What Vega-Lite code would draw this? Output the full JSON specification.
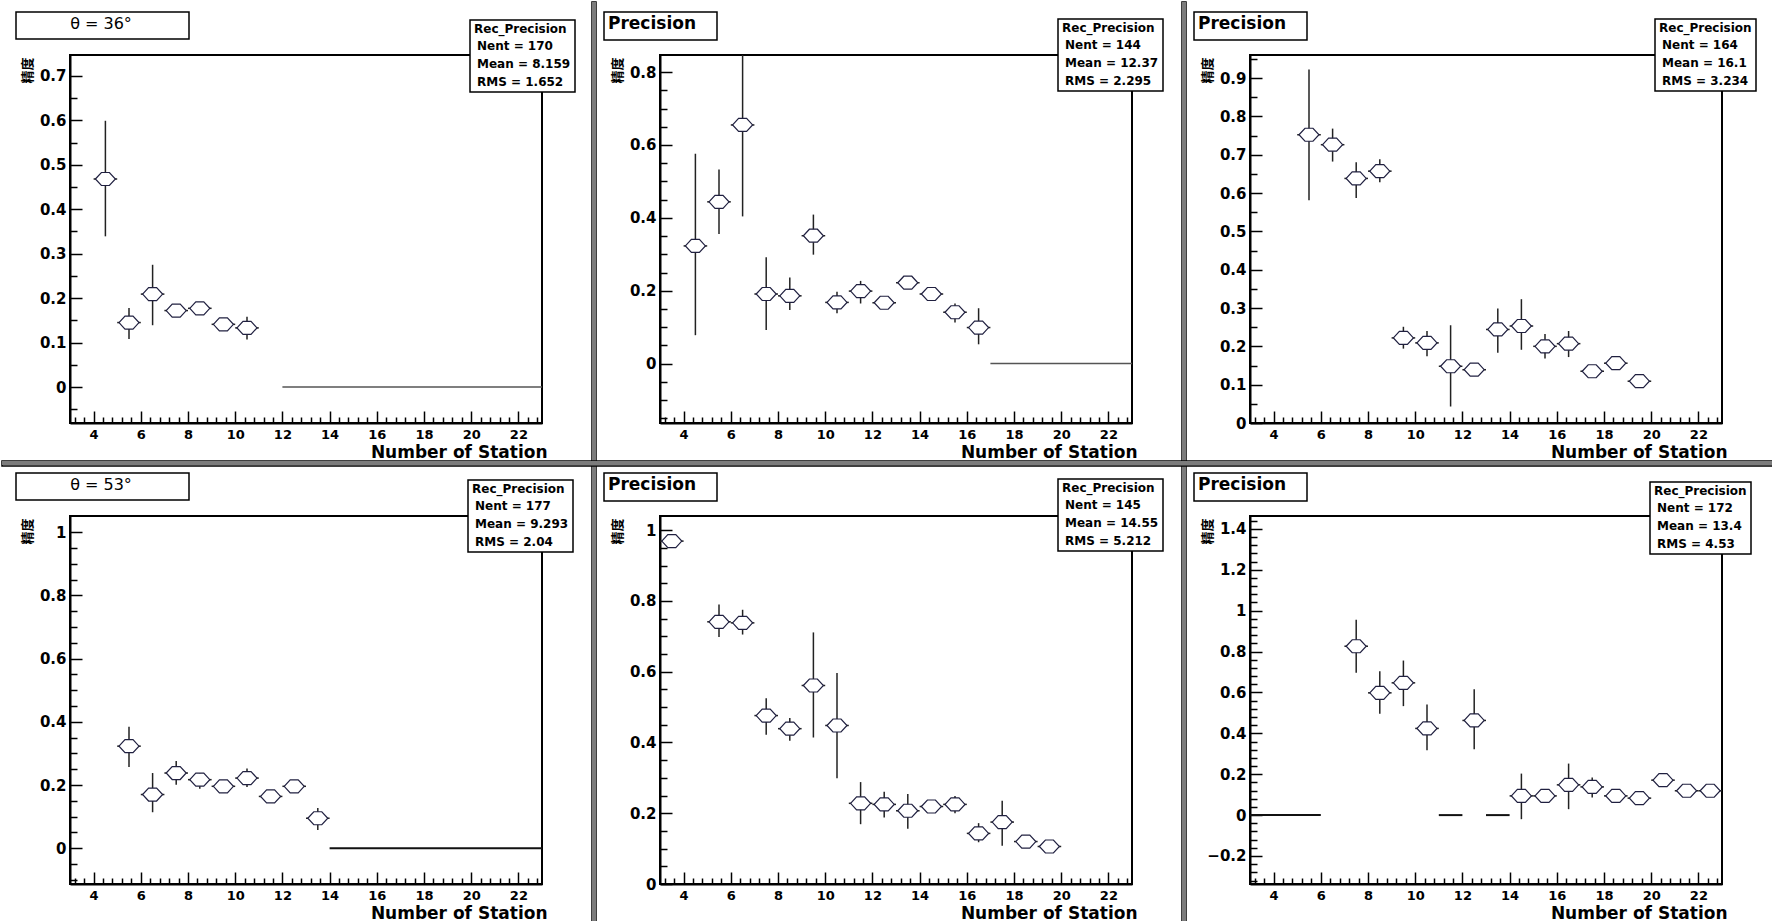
{
  "$schema": "https://vega.github.io/schema/vega-lite/v6.json",
  "background": "white",
  "padding": {"left": 0, "top": 0, "right": 0, "bottom": 0},
  "datasets": {
    "p1": [
      {"x": 4.5, "bin_lo": 4, "bin_hi": 5, "y": 0.468, "lo": 0.339, "hi": 0.599},
      {"x": 5.5, "bin_lo": 5, "bin_hi": 6, "y": 0.145, "lo": 0.108, "hi": 0.178},
      {"x": 6.5, "bin_lo": 6, "bin_hi": 7, "y": 0.209, "lo": 0.139, "hi": 0.275},
      {"x": 7.5, "bin_lo": 7, "bin_hi": 8, "y": 0.172, "lo": 0.16, "hi": 0.184},
      {"x": 8.5, "bin_lo": 8, "bin_hi": 9, "y": 0.177, "lo": 0.166, "hi": 0.188},
      {"x": 9.5, "bin_lo": 9, "bin_hi": 10, "y": 0.141, "lo": 0.13, "hi": 0.152},
      {"x": 10.5, "bin_lo": 10, "bin_hi": 11, "y": 0.133, "lo": 0.107, "hi": 0.158}
    ],
    "z1": [{"x1": 12, "x2": 23, "y0": 0}],
    "s1": [{"stat": "Nent = 170"}, {"stat": "Mean = 8.159"}, {"stat": "RMS = 1.652"}],
    "p2": [
      {"x": 4.5, "bin_lo": 4, "bin_hi": 5, "y": 0.323, "lo": 0.078, "hi": 0.576},
      {"x": 5.5, "bin_lo": 5, "bin_hi": 6, "y": 0.444, "lo": 0.356, "hi": 0.533},
      {"x": 6.5, "bin_lo": 6, "bin_hi": 7, "y": 0.655, "lo": 0.404, "hi": 0.906},
      {"x": 7.5, "bin_lo": 7, "bin_hi": 8, "y": 0.191, "lo": 0.092, "hi": 0.292},
      {"x": 8.5, "bin_lo": 8, "bin_hi": 9, "y": 0.186, "lo": 0.147, "hi": 0.236},
      {"x": 9.5, "bin_lo": 9, "bin_hi": 10, "y": 0.351, "lo": 0.299, "hi": 0.409},
      {"x": 10.5, "bin_lo": 10, "bin_hi": 11, "y": 0.168, "lo": 0.138, "hi": 0.197},
      {"x": 11.5, "bin_lo": 11, "bin_hi": 12, "y": 0.199, "lo": 0.165, "hi": 0.227},
      {"x": 12.5, "bin_lo": 12, "bin_hi": 13, "y": 0.167, "lo": 0.155, "hi": 0.179},
      {"x": 13.5, "bin_lo": 13, "bin_hi": 14, "y": 0.222, "lo": 0.21, "hi": 0.234},
      {"x": 14.5, "bin_lo": 14, "bin_hi": 15, "y": 0.191, "lo": 0.18, "hi": 0.202},
      {"x": 15.5, "bin_lo": 15, "bin_hi": 16, "y": 0.141, "lo": 0.113, "hi": 0.165},
      {"x": 16.5, "bin_lo": 16, "bin_hi": 17, "y": 0.099, "lo": 0.053, "hi": 0.152}
    ],
    "z2": [{"x1": 17, "x2": 23, "y0": 0}],
    "s2": [{"stat": "Nent = 144"}, {"stat": "Mean = 12.37"}, {"stat": "RMS = 2.295"}],
    "p3": [
      {"x": 5.5, "bin_lo": 5, "bin_hi": 6, "y": 0.752, "lo": 0.581, "hi": 0.922},
      {"x": 6.5, "bin_lo": 6, "bin_hi": 7, "y": 0.726, "lo": 0.682, "hi": 0.768},
      {"x": 7.5, "bin_lo": 7, "bin_hi": 8, "y": 0.638, "lo": 0.587, "hi": 0.68},
      {"x": 8.5, "bin_lo": 8, "bin_hi": 9, "y": 0.657, "lo": 0.628, "hi": 0.688},
      {"x": 9.5, "bin_lo": 9, "bin_hi": 10, "y": 0.222, "lo": 0.194, "hi": 0.251},
      {"x": 10.5, "bin_lo": 10, "bin_hi": 11, "y": 0.209, "lo": 0.174, "hi": 0.24},
      {"x": 11.5, "bin_lo": 11, "bin_hi": 12, "y": 0.148, "lo": 0.043, "hi": 0.255},
      {"x": 12.5, "bin_lo": 12, "bin_hi": 13, "y": 0.139, "lo": 0.128, "hi": 0.15},
      {"x": 13.5, "bin_lo": 13, "bin_hi": 14, "y": 0.244, "lo": 0.183, "hi": 0.299},
      {"x": 14.5, "bin_lo": 14, "bin_hi": 15, "y": 0.253, "lo": 0.191, "hi": 0.323},
      {"x": 15.5, "bin_lo": 15, "bin_hi": 16, "y": 0.2, "lo": 0.168, "hi": 0.232},
      {"x": 16.5, "bin_lo": 16, "bin_hi": 17, "y": 0.207, "lo": 0.172, "hi": 0.24},
      {"x": 17.5, "bin_lo": 17, "bin_hi": 18, "y": 0.135, "lo": 0.125, "hi": 0.145},
      {"x": 18.5, "bin_lo": 18, "bin_hi": 19, "y": 0.156, "lo": 0.146, "hi": 0.166},
      {"x": 19.5, "bin_lo": 19, "bin_hi": 20, "y": 0.109, "lo": 0.1, "hi": 0.118}
    ],
    "z3": [],
    "s3": [{"stat": "Nent = 164"}, {"stat": "Mean = 16.1"}, {"stat": "RMS = 3.234"}],
    "p4": [
      {"x": 5.5, "bin_lo": 5, "bin_hi": 6, "y": 0.323, "lo": 0.257, "hi": 0.384},
      {"x": 6.5, "bin_lo": 6, "bin_hi": 7, "y": 0.17, "lo": 0.114, "hi": 0.238},
      {"x": 7.5, "bin_lo": 7, "bin_hi": 8, "y": 0.238, "lo": 0.201, "hi": 0.276},
      {"x": 8.5, "bin_lo": 8, "bin_hi": 9, "y": 0.217, "lo": 0.188, "hi": 0.238},
      {"x": 9.5, "bin_lo": 9, "bin_hi": 10, "y": 0.196, "lo": 0.183, "hi": 0.209},
      {"x": 10.5, "bin_lo": 10, "bin_hi": 11, "y": 0.222, "lo": 0.194, "hi": 0.252},
      {"x": 11.5, "bin_lo": 11, "bin_hi": 12, "y": 0.164, "lo": 0.151, "hi": 0.177},
      {"x": 12.5, "bin_lo": 12, "bin_hi": 13, "y": 0.196, "lo": 0.184, "hi": 0.208},
      {"x": 13.5, "bin_lo": 13, "bin_hi": 14, "y": 0.095, "lo": 0.058, "hi": 0.127}
    ],
    "z4": [{"x1": 14, "x2": 23, "y0": 0}],
    "s4": [{"stat": "Nent = 177"}, {"stat": "Mean = 9.293"}, {"stat": "RMS = 2.04"}],
    "p5": [
      {"x": 3.5, "bin_lo": 3, "bin_hi": 4, "y": 0.969, "lo": 0.958, "hi": 0.98},
      {"x": 5.5, "bin_lo": 5, "bin_hi": 6, "y": 0.741, "lo": 0.698, "hi": 0.79},
      {"x": 6.5, "bin_lo": 6, "bin_hi": 7, "y": 0.738, "lo": 0.705, "hi": 0.775},
      {"x": 7.5, "bin_lo": 7, "bin_hi": 8, "y": 0.476, "lo": 0.422, "hi": 0.525},
      {"x": 8.5, "bin_lo": 8, "bin_hi": 9, "y": 0.439, "lo": 0.405, "hi": 0.469},
      {"x": 9.5, "bin_lo": 9, "bin_hi": 10, "y": 0.561, "lo": 0.414, "hi": 0.711},
      {"x": 10.5, "bin_lo": 10, "bin_hi": 11, "y": 0.448, "lo": 0.299, "hi": 0.596},
      {"x": 11.5, "bin_lo": 11, "bin_hi": 12, "y": 0.228, "lo": 0.169, "hi": 0.288},
      {"x": 12.5, "bin_lo": 12, "bin_hi": 13, "y": 0.225, "lo": 0.188, "hi": 0.261},
      {"x": 13.5, "bin_lo": 13, "bin_hi": 14, "y": 0.207, "lo": 0.156, "hi": 0.254},
      {"x": 14.5, "bin_lo": 14, "bin_hi": 15, "y": 0.219, "lo": 0.208, "hi": 0.23},
      {"x": 15.5, "bin_lo": 15, "bin_hi": 16, "y": 0.225, "lo": 0.2, "hi": 0.249},
      {"x": 16.5, "bin_lo": 16, "bin_hi": 17, "y": 0.143, "lo": 0.118, "hi": 0.172},
      {"x": 17.5, "bin_lo": 17, "bin_hi": 18, "y": 0.175, "lo": 0.108, "hi": 0.235},
      {"x": 18.5, "bin_lo": 18, "bin_hi": 19, "y": 0.12, "lo": 0.11, "hi": 0.13},
      {"x": 19.5, "bin_lo": 19, "bin_hi": 20, "y": 0.106, "lo": 0.097, "hi": 0.115}
    ],
    "z5": [],
    "s5": [{"stat": "Nent = 145"}, {"stat": "Mean = 14.55"}, {"stat": "RMS = 5.212"}],
    "p6": [
      {"x": 7.5, "bin_lo": 7, "bin_hi": 8, "y": 0.826, "lo": 0.696, "hi": 0.956},
      {"x": 8.5, "bin_lo": 8, "bin_hi": 9, "y": 0.598, "lo": 0.496, "hi": 0.704},
      {"x": 9.5, "bin_lo": 9, "bin_hi": 10, "y": 0.647, "lo": 0.533, "hi": 0.756},
      {"x": 10.5, "bin_lo": 10, "bin_hi": 11, "y": 0.424, "lo": 0.317, "hi": 0.541},
      {"x": 12.5, "bin_lo": 12, "bin_hi": 13, "y": 0.463, "lo": 0.322, "hi": 0.615},
      {"x": 14.5, "bin_lo": 14, "bin_hi": 15, "y": 0.094, "lo": -0.02, "hi": 0.203},
      {"x": 15.5, "bin_lo": 15, "bin_hi": 16, "y": 0.094, "lo": 0.083, "hi": 0.105},
      {"x": 16.5, "bin_lo": 16, "bin_hi": 17, "y": 0.148, "lo": 0.029, "hi": 0.252},
      {"x": 17.5, "bin_lo": 17, "bin_hi": 18, "y": 0.138, "lo": 0.086, "hi": 0.184},
      {"x": 18.5, "bin_lo": 18, "bin_hi": 19, "y": 0.094, "lo": 0.083, "hi": 0.105},
      {"x": 19.5, "bin_lo": 19, "bin_hi": 20, "y": 0.083, "lo": 0.072, "hi": 0.094},
      {"x": 20.5, "bin_lo": 20, "bin_hi": 21, "y": 0.171, "lo": 0.16, "hi": 0.182},
      {"x": 21.5, "bin_lo": 21, "bin_hi": 22, "y": 0.119, "lo": 0.108, "hi": 0.13},
      {"x": 22.5, "bin_lo": 22, "bin_hi": 23, "y": 0.119, "lo": 0.108, "hi": 0.13}
    ],
    "z6": [{"x1": 3, "x2": 6, "y0": 0}, {"x1": 11, "x2": 12, "y0": 0}, {"x1": 13, "x2": 14, "y0": 0}],
    "s6": [{"stat": "Nent = 172"}, {"stat": "Mean = 13.4"}, {"stat": "RMS = 4.53"}],
    "tb": [{"v": 0}, {"v": 1}]
  },
  "columns": 3,
  "spacing": {"row": 93, "column": 118},
  "bounds": "flush",
  "resolve": {
    "scale": {"x": "independent", "y": "independent", "color": "independent", "shape": "independent", "fill": "independent"},
    "legend": {"color": "independent", "shape": "independent", "fill": "independent"},
    "axis": {"x": "independent", "y": "independent"}
  },
  "concat": [
    {
      "width": 472, "height": 368,
      "resolve": {"axis": {"x": "independent", "y": "independent"}},
      "layer": [
        {"data": {"name": "z1"}, "mark": {"type": "rule", "stroke": "#555", "strokeWidth": 1.5},
         "encoding": {"x": {"field": "x1", "type": "quantitative", "scale": {"domain": [3, 23], "nice": false, "zero": false}, "axis": null}, "x2": {"field": "x2"}, "y": {"field": "y0", "type": "quantitative", "scale": {"domain": [-0.081, 0.747], "nice": false, "zero": false}, "axis": null}}},
        {"data": {"name": "p1"}, "mark": {"type": "rule", "stroke": "#222", "strokeWidth": 1.5, "clip": true},
         "encoding": {
           "x": {"field": "x", "type": "quantitative", "scale": {"domain": [3, 23], "nice": false, "zero": false},
                 "axis": {"orient": "bottom", "title": "Number of Station", "titleX": 477, "titleY": 34, "titleAlign": "right", "titleBaseline": "alphabetic", "titleFont": "DejaVu Sans", "titleFontWeight": "bold", "titleFontSize": 17, "titleColor": "black",
                          "values": [4,6,8,10,12,14,16,18,20,22], "format": "d", "tickSize": -12, "labelPadding": 17, "labelFontSize": 13}},
           "y": {"field": "lo", "type": "quantitative", "scale": {"domain": [-0.081, 0.747], "nice": false, "zero": false},
                 "axis": {"orient": "left", "title": "精度", "titleFont": "Noto Sans CJK SC", "titleFontSize": 13, "titleFontWeight": "bold", "titleColor": "black", "titleX": -43, "titleY": 2, "titleAlign": "right", "titleBaseline": "middle", "titleAngle": -90,
                          "values": [0,0.1,0.2,0.3,0.4,0.5,0.6,0.7], "format": ".1~f", "tickSize": -12, "labelPadding": 16}},
           "y2": {"field": "hi"}}},
        {"data": {"name": "p1"}, "mark": {"type": "rule", "stroke": "#222", "strokeWidth": 1.5},
         "encoding": {"x": {"field": "bin_lo", "type": "quantitative", "scale": {"domain": [3, 23], "nice": false, "zero": false}, "axis": null}, "x2": {"field": "bin_hi"}, "y": {"field": "y", "type": "quantitative", "scale": {"domain": [-0.081, 0.747], "nice": false, "zero": false}, "axis": null}}},
        {"data": {"name": "p1"}, "mark": {"type": "point", "shape": "M-1,0L-0.4,-0.65L0.4,-0.65L1,0L0.4,0.65L-0.4,0.65Z", "size": 400, "filled": true, "fill": "white", "stroke": "#202040", "strokeWidth": 1.2, "opacity": 1},
         "encoding": {
           "x": {"field": "x", "type": "quantitative", "scale": {"domain": [3, 23], "nice": false, "zero": false},
                 "axis": {"orient": "bottom", "title": null, "labels": false, "domain": false, "tickSize": -6,
                          "values": [3.2,3.6,4.4,4.8,5.2,5.6,6.4,6.8,7.2,7.6,8.4,8.8,9.2,9.6,10.4,10.8,11.2,11.6,12.4,12.8,13.2,13.6,14.4,14.8,15.2,15.6,16.4,16.8,17.2,17.6,18.4,18.8,19.2,19.6,20.4,20.8,21.2,21.6,22.4,22.8]}},
           "y": {"field": "y", "type": "quantitative", "scale": {"domain": [-0.081, 0.747], "nice": false, "zero": false},
                 "axis": {"orient": "left", "title": null, "labels": false, "domain": false, "tickSize": -7,
                          "values": [-0.05,0.05,0.15,0.25,0.35,0.45,0.55,0.65]}}}},
        {"data": {"name": "s1"}, "mark": {"type": "point", "opacity": 0},
         "encoding": {"shape": {"field": "stat", "type": "nominal", "scale": {"domain": ["Nent = 170", "Mean = 8.159", "RMS = 1.652"]},
                                "legend": {"title": "Rec_Precision", "orient": "none", "legendX": 400, "legendY": -35}}}},
        {"data": {"name": "tb"}, "mark": {"type": "point", "opacity": 0},
         "encoding": {"color": {"field": "v", "type": "quantitative", "scale": {"domain": [0, 1], "range": ["white", "white"]},
                                "legend": {"type": "gradient", "direction": "horizontal", "orient": "none", "legendX": -54, "legendY": -43,
                                           "title": "θ = 36°", "titleAnchor": "middle", "titleFontSize": 16, "titleFontWeight": "normal", "titlePadding": 1,
                                           "gradientLength": 165, "gradientThickness": 1, "gradientStrokeWidth": 0, "labelExpr": "''", "labelFontSize": 1, "labelOffset": 0, "padding": 4}}}},
        {"data": {"name": "tb"}, "mark": {"type": "point", "size": 0, "filled": true, "opacity": 1},
         "encoding": {"fill": {"field": "v", "type": "quantitative", "scale": {"domain": [0, 2], "range": ["#7c7c7c", "#7c7c7c"]},
                               "legend": {"type": "gradient", "direction": "vertical", "orient": "none", "legendX": 522, "legendY": -53, "title": null,
                                          "gradientLength": 921, "gradientThickness": 4, "gradientStrokeWidth": 0, "labelExpr": "''", "labelFontSize": 1, "labelOffset": 0, "padding": 0, "fillColor": null, "strokeColor": null}}}}
      ]
    },
    {
      "width": 472, "height": 368,
      "resolve": {"axis": {"x": "independent", "y": "independent"}},
      "layer": [
        {"data": {"name": "z2"}, "mark": {"type": "rule", "stroke": "#555", "strokeWidth": 1.5},
         "encoding": {"x": {"field": "x1", "type": "quantitative", "scale": {"domain": [3, 23], "nice": false, "zero": false}, "axis": null}, "x2": {"field": "x2"}, "y": {"field": "y0", "type": "quantitative", "scale": {"domain": [-0.163, 0.847], "nice": false, "zero": false}, "axis": null}}},
        {"data": {"name": "p2"}, "mark": {"type": "rule", "stroke": "#222", "strokeWidth": 1.5, "clip": true},
         "encoding": {
           "x": {"field": "x", "type": "quantitative", "scale": {"domain": [3, 23], "nice": false, "zero": false},
                 "axis": {"orient": "bottom", "title": "Number of Station", "titleX": 477, "titleY": 34, "titleAlign": "right", "titleBaseline": "alphabetic", "titleFont": "DejaVu Sans", "titleFontWeight": "bold", "titleFontSize": 17, "titleColor": "black",
                          "values": [4,6,8,10,12,14,16,18,20,22], "format": "d", "tickSize": -12, "labelPadding": 17, "labelFontSize": 13}},
           "y": {"field": "lo", "type": "quantitative", "scale": {"domain": [-0.163, 0.847], "nice": false, "zero": false},
                 "axis": {"orient": "left", "title": "精度", "titleFont": "Noto Sans CJK SC", "titleFontSize": 13, "titleFontWeight": "bold", "titleColor": "black", "titleX": -43, "titleY": 2, "titleAlign": "right", "titleBaseline": "middle", "titleAngle": -90,
                          "values": [0,0.2,0.4,0.6,0.8], "format": ".1~f", "tickSize": -12, "labelPadding": 16}},
           "y2": {"field": "hi"}}},
        {"data": {"name": "p2"}, "mark": {"type": "rule", "stroke": "#222", "strokeWidth": 1.5},
         "encoding": {"x": {"field": "bin_lo", "type": "quantitative", "scale": {"domain": [3, 23], "nice": false, "zero": false}, "axis": null}, "x2": {"field": "bin_hi"}, "y": {"field": "y", "type": "quantitative", "scale": {"domain": [-0.163, 0.847], "nice": false, "zero": false}, "axis": null}}},
        {"data": {"name": "p2"}, "mark": {"type": "point", "shape": "M-1,0L-0.4,-0.65L0.4,-0.65L1,0L0.4,0.65L-0.4,0.65Z", "size": 400, "filled": true, "fill": "white", "stroke": "#202040", "strokeWidth": 1.2, "opacity": 1},
         "encoding": {
           "x": {"field": "x", "type": "quantitative", "scale": {"domain": [3, 23], "nice": false, "zero": false},
                 "axis": {"orient": "bottom", "title": null, "labels": false, "domain": false, "tickSize": -6,
                          "values": [3.2,3.6,4.4,4.8,5.2,5.6,6.4,6.8,7.2,7.6,8.4,8.8,9.2,9.6,10.4,10.8,11.2,11.6,12.4,12.8,13.2,13.6,14.4,14.8,15.2,15.6,16.4,16.8,17.2,17.6,18.4,18.8,19.2,19.6,20.4,20.8,21.2,21.6,22.4,22.8]}},
           "y": {"field": "y", "type": "quantitative", "scale": {"domain": [-0.163, 0.847], "nice": false, "zero": false},
                 "axis": {"orient": "left", "title": null, "labels": false, "domain": false, "tickSize": -7,
                          "values": [-0.15,-0.1,-0.05,0.05,0.1,0.15,0.25,0.3,0.35,0.45,0.5,0.55,0.65,0.7,0.75]}}}},
        {"data": {"name": "s2"}, "mark": {"type": "point", "opacity": 0},
         "encoding": {"shape": {"field": "stat", "type": "nominal", "scale": {"domain": ["Nent = 144", "Mean = 12.37", "RMS = 2.295"]},
                                "legend": {"title": "Rec_Precision", "orient": "none", "legendX": 398, "legendY": -36}}}},
        {"data": {"name": "tb"}, "mark": {"type": "point", "opacity": 0},
         "encoding": {"color": {"field": "v", "type": "quantitative", "scale": {"domain": [0, 1], "range": ["white", "white"]},
                                "legend": {"type": "gradient", "direction": "horizontal", "orient": "none", "legendX": -56, "legendY": -43,
                                           "title": "Precision", "titleAnchor": "start", "titleFontSize": 17, "titleFontWeight": "bold", "titlePadding": 1,
                                           "gradientLength": 105, "gradientThickness": 1, "gradientStrokeWidth": 0, "labelExpr": "''", "labelFontSize": 1, "labelOffset": 0, "padding": 4}}}},
        {"data": {"name": "tb"}, "mark": {"type": "point", "size": 0, "filled": true, "opacity": 1},
         "encoding": {"fill": {"field": "v", "type": "quantitative", "scale": {"domain": [0, 2], "range": ["#7c7c7c", "#7c7c7c"]},
                               "legend": {"type": "gradient", "direction": "vertical", "orient": "none", "legendX": 522, "legendY": -53, "title": null,
                                          "gradientLength": 921, "gradientThickness": 4, "gradientStrokeWidth": 0, "labelExpr": "''", "labelFontSize": 1, "labelOffset": 0, "padding": 0, "fillColor": null, "strokeColor": null}}}}
      ]
    },
    {
      "width": 472, "height": 368,
      "resolve": {"axis": {"x": "independent", "y": "independent"}},
      "layer": [
        {"data": {"name": "z3"}, "mark": {"type": "rule", "stroke": "#555", "strokeWidth": 1.5},
         "encoding": {"x": {"field": "x1", "type": "quantitative", "scale": {"domain": [3, 23], "nice": false, "zero": false}, "axis": null}, "x2": {"field": "x2"}, "y": {"field": "y0", "type": "quantitative", "scale": {"domain": [0, 0.96], "nice": false, "zero": false}, "axis": null}}},
        {"data": {"name": "p3"}, "mark": {"type": "rule", "stroke": "#222", "strokeWidth": 1.5, "clip": true},
         "encoding": {
           "x": {"field": "x", "type": "quantitative", "scale": {"domain": [3, 23], "nice": false, "zero": false},
                 "axis": {"orient": "bottom", "title": "Number of Station", "titleX": 477, "titleY": 34, "titleAlign": "right", "titleBaseline": "alphabetic", "titleFont": "DejaVu Sans", "titleFontWeight": "bold", "titleFontSize": 17, "titleColor": "black",
                          "values": [4,6,8,10,12,14,16,18,20,22], "format": "d", "tickSize": -12, "labelPadding": 17, "labelFontSize": 13}},
           "y": {"field": "lo", "type": "quantitative", "scale": {"domain": [0, 0.96], "nice": false, "zero": false},
                 "axis": {"orient": "left", "title": "精度", "titleFont": "Noto Sans CJK SC", "titleFontSize": 13, "titleFontWeight": "bold", "titleColor": "black", "titleX": -43, "titleY": 2, "titleAlign": "right", "titleBaseline": "middle", "titleAngle": -90,
                          "values": [0,0.1,0.2,0.3,0.4,0.5,0.6,0.7,0.8,0.9], "format": ".1~f", "tickSize": -12, "labelPadding": 16}},
           "y2": {"field": "hi"}}},
        {"data": {"name": "p3"}, "mark": {"type": "rule", "stroke": "#222", "strokeWidth": 1.5},
         "encoding": {"x": {"field": "bin_lo", "type": "quantitative", "scale": {"domain": [3, 23], "nice": false, "zero": false}, "axis": null}, "x2": {"field": "bin_hi"}, "y": {"field": "y", "type": "quantitative", "scale": {"domain": [0, 0.96], "nice": false, "zero": false}, "axis": null}}},
        {"data": {"name": "p3"}, "mark": {"type": "point", "shape": "M-1,0L-0.4,-0.65L0.4,-0.65L1,0L0.4,0.65L-0.4,0.65Z", "size": 400, "filled": true, "fill": "white", "stroke": "#202040", "strokeWidth": 1.2, "opacity": 1},
         "encoding": {
           "x": {"field": "x", "type": "quantitative", "scale": {"domain": [3, 23], "nice": false, "zero": false},
                 "axis": {"orient": "bottom", "title": null, "labels": false, "domain": false, "tickSize": -6,
                          "values": [3.2,3.6,4.4,4.8,5.2,5.6,6.4,6.8,7.2,7.6,8.4,8.8,9.2,9.6,10.4,10.8,11.2,11.6,12.4,12.8,13.2,13.6,14.4,14.8,15.2,15.6,16.4,16.8,17.2,17.6,18.4,18.8,19.2,19.6,20.4,20.8,21.2,21.6,22.4,22.8]}},
           "y": {"field": "y", "type": "quantitative", "scale": {"domain": [0, 0.96], "nice": false, "zero": false},
                 "axis": {"orient": "left", "title": null, "labels": false, "domain": false, "tickSize": -7,
                          "values": [0.05,0.15,0.25,0.35,0.45,0.55,0.65,0.75,0.85,0.95]}}}},
        {"data": {"name": "s3"}, "mark": {"type": "point", "opacity": 0},
         "encoding": {"shape": {"field": "stat", "type": "nominal", "scale": {"domain": ["Nent = 164", "Mean = 16.1", "RMS = 3.234"]},
                                "legend": {"title": "Rec_Precision", "orient": "none", "legendX": 405, "legendY": -36}}}},
        {"data": {"name": "tb"}, "mark": {"type": "point", "opacity": 0},
         "encoding": {"color": {"field": "v", "type": "quantitative", "scale": {"domain": [0, 1], "range": ["white", "white"]},
                                "legend": {"type": "gradient", "direction": "horizontal", "orient": "none", "legendX": -56, "legendY": -43,
                                           "title": "Precision", "titleAnchor": "start", "titleFontSize": 17, "titleFontWeight": "bold", "titlePadding": 1,
                                           "gradientLength": 105, "gradientThickness": 1, "gradientStrokeWidth": 0, "labelExpr": "''", "labelFontSize": 1, "labelOffset": 0, "padding": 4}}}}
      ]
    },
    {
      "width": 472, "height": 368,
      "resolve": {"axis": {"x": "independent", "y": "independent"}},
      "layer": [
        {"data": {"name": "z4"}, "mark": {"type": "rule", "stroke": "#111", "strokeWidth": 2},
         "encoding": {"x": {"field": "x1", "type": "quantitative", "scale": {"domain": [3, 23], "nice": false, "zero": false}, "axis": null}, "x2": {"field": "x2"}, "y": {"field": "y0", "type": "quantitative", "scale": {"domain": [-0.113, 1.051], "nice": false, "zero": false}, "axis": null}}},
        {"data": {"name": "p4"}, "mark": {"type": "rule", "stroke": "#222", "strokeWidth": 1.5, "clip": true},
         "encoding": {
           "x": {"field": "x", "type": "quantitative", "scale": {"domain": [3, 23], "nice": false, "zero": false},
                 "axis": {"orient": "bottom", "title": "Number of Station", "titleX": 477, "titleY": 34, "titleAlign": "right", "titleBaseline": "alphabetic", "titleFont": "DejaVu Sans", "titleFontWeight": "bold", "titleFontSize": 17, "titleColor": "black",
                          "values": [4,6,8,10,12,14,16,18,20,22], "format": "d", "tickSize": -12, "labelPadding": 17, "labelFontSize": 13}},
           "y": {"field": "lo", "type": "quantitative", "scale": {"domain": [-0.113, 1.051], "nice": false, "zero": false},
                 "axis": {"orient": "left", "title": "精度", "titleFont": "Noto Sans CJK SC", "titleFontSize": 13, "titleFontWeight": "bold", "titleColor": "black", "titleX": -43, "titleY": 2, "titleAlign": "right", "titleBaseline": "middle", "titleAngle": -90,
                          "values": [0,0.2,0.4,0.6,0.8,1], "format": ".1~f", "tickSize": -12, "labelPadding": 16}},
           "y2": {"field": "hi"}}},
        {"data": {"name": "p4"}, "mark": {"type": "rule", "stroke": "#222", "strokeWidth": 1.5},
         "encoding": {"x": {"field": "bin_lo", "type": "quantitative", "scale": {"domain": [3, 23], "nice": false, "zero": false}, "axis": null}, "x2": {"field": "bin_hi"}, "y": {"field": "y", "type": "quantitative", "scale": {"domain": [-0.113, 1.051], "nice": false, "zero": false}, "axis": null}}},
        {"data": {"name": "p4"}, "mark": {"type": "point", "shape": "M-1,0L-0.4,-0.65L0.4,-0.65L1,0L0.4,0.65L-0.4,0.65Z", "size": 400, "filled": true, "fill": "white", "stroke": "#202040", "strokeWidth": 1.2, "opacity": 1},
         "encoding": {
           "x": {"field": "x", "type": "quantitative", "scale": {"domain": [3, 23], "nice": false, "zero": false},
                 "axis": {"orient": "bottom", "title": null, "labels": false, "domain": false, "tickSize": -6,
                          "values": [3.2,3.6,4.4,4.8,5.2,5.6,6.4,6.8,7.2,7.6,8.4,8.8,9.2,9.6,10.4,10.8,11.2,11.6,12.4,12.8,13.2,13.6,14.4,14.8,15.2,15.6,16.4,16.8,17.2,17.6,18.4,18.8,19.2,19.6,20.4,20.8,21.2,21.6,22.4,22.8]}},
           "y": {"field": "y", "type": "quantitative", "scale": {"domain": [-0.113, 1.051], "nice": false, "zero": false},
                 "axis": {"orient": "left", "title": null, "labels": false, "domain": false, "tickSize": -7,
                          "values": [-0.1,-0.05,0.05,0.1,0.15,0.25,0.3,0.35,0.45,0.5,0.55,0.65,0.7,0.75,0.85,0.9,0.95]}}}},
        {"data": {"name": "s4"}, "mark": {"type": "point", "opacity": 0},
         "encoding": {"shape": {"field": "stat", "type": "nominal", "scale": {"domain": ["Nent = 177", "Mean = 9.293", "RMS = 2.04"]},
                                "legend": {"title": "Rec_Precision", "orient": "none", "legendX": 398, "legendY": -36}}}},
        {"data": {"name": "tb"}, "mark": {"type": "point", "opacity": 0},
         "encoding": {"color": {"field": "v", "type": "quantitative", "scale": {"domain": [0, 1], "range": ["white", "white"]},
                                "legend": {"type": "gradient", "direction": "horizontal", "orient": "none", "legendX": -54, "legendY": -43,
                                           "title": "θ = 53°", "titleAnchor": "middle", "titleFontSize": 16, "titleFontWeight": "normal", "titlePadding": 1,
                                           "gradientLength": 165, "gradientThickness": 1, "gradientStrokeWidth": 0, "labelExpr": "''", "labelFontSize": 1, "labelOffset": 0, "padding": 4}}}},
        {"data": {"name": "tb"}, "mark": {"type": "point", "size": 0, "filled": true, "opacity": 1},
         "encoding": {"fill": {"field": "v", "type": "quantitative", "scale": {"domain": [0, 2], "range": ["#7c7c7c", "#7c7c7c"]},
                               "legend": {"type": "gradient", "direction": "horizontal", "orient": "none", "legendX": -68, "legendY": -55, "title": null,
                                          "gradientLength": 1772, "gradientThickness": 4, "gradientStrokeWidth": 0, "labelExpr": "''", "labelFontSize": 1, "labelOffset": 0, "padding": 0, "fillColor": null, "strokeColor": null}}}}
      ]
    },
    {
      "width": 472, "height": 368,
      "resolve": {"axis": {"x": "independent", "y": "independent"}},
      "layer": [
        {"data": {"name": "z5"}, "mark": {"type": "rule", "stroke": "#555", "strokeWidth": 1.5},
         "encoding": {"x": {"field": "x1", "type": "quantitative", "scale": {"domain": [3, 23], "nice": false, "zero": false}, "axis": null}, "x2": {"field": "x2"}, "y": {"field": "y0", "type": "quantitative", "scale": {"domain": [0, 1.04], "nice": false, "zero": false}, "axis": null}}},
        {"data": {"name": "p5"}, "mark": {"type": "rule", "stroke": "#222", "strokeWidth": 1.5, "clip": true},
         "encoding": {
           "x": {"field": "x", "type": "quantitative", "scale": {"domain": [3, 23], "nice": false, "zero": false},
                 "axis": {"orient": "bottom", "title": "Number of Station", "titleX": 477, "titleY": 34, "titleAlign": "right", "titleBaseline": "alphabetic", "titleFont": "DejaVu Sans", "titleFontWeight": "bold", "titleFontSize": 17, "titleColor": "black",
                          "values": [4,6,8,10,12,14,16,18,20,22], "format": "d", "tickSize": -12, "labelPadding": 17, "labelFontSize": 13}},
           "y": {"field": "lo", "type": "quantitative", "scale": {"domain": [0, 1.04], "nice": false, "zero": false},
                 "axis": {"orient": "left", "title": "精度", "titleFont": "Noto Sans CJK SC", "titleFontSize": 13, "titleFontWeight": "bold", "titleColor": "black", "titleX": -43, "titleY": 2, "titleAlign": "right", "titleBaseline": "middle", "titleAngle": -90,
                          "values": [0,0.2,0.4,0.6,0.8,1], "format": ".1~f", "tickSize": -12, "labelPadding": 16}},
           "y2": {"field": "hi"}}},
        {"data": {"name": "p5"}, "mark": {"type": "rule", "stroke": "#222", "strokeWidth": 1.5},
         "encoding": {"x": {"field": "bin_lo", "type": "quantitative", "scale": {"domain": [3, 23], "nice": false, "zero": false}, "axis": null}, "x2": {"field": "bin_hi"}, "y": {"field": "y", "type": "quantitative", "scale": {"domain": [0, 1.04], "nice": false, "zero": false}, "axis": null}}},
        {"data": {"name": "p5"}, "mark": {"type": "point", "shape": "M-1,0L-0.4,-0.65L0.4,-0.65L1,0L0.4,0.65L-0.4,0.65Z", "size": 400, "filled": true, "fill": "white", "stroke": "#202040", "strokeWidth": 1.2, "opacity": 1},
         "encoding": {
           "x": {"field": "x", "type": "quantitative", "scale": {"domain": [3, 23], "nice": false, "zero": false},
                 "axis": {"orient": "bottom", "title": null, "labels": false, "domain": false, "tickSize": -6,
                          "values": [3.2,3.6,4.4,4.8,5.2,5.6,6.4,6.8,7.2,7.6,8.4,8.8,9.2,9.6,10.4,10.8,11.2,11.6,12.4,12.8,13.2,13.6,14.4,14.8,15.2,15.6,16.4,16.8,17.2,17.6,18.4,18.8,19.2,19.6,20.4,20.8,21.2,21.6,22.4,22.8]}},
           "y": {"field": "y", "type": "quantitative", "scale": {"domain": [0, 1.04], "nice": false, "zero": false},
                 "axis": {"orient": "left", "title": null, "labels": false, "domain": false, "tickSize": -7,
                          "values": [0.05,0.1,0.15,0.25,0.3,0.35,0.45,0.5,0.55,0.65,0.7,0.75,0.85,0.9,0.95]}}}},
        {"data": {"name": "s5"}, "mark": {"type": "point", "opacity": 0},
         "encoding": {"shape": {"field": "stat", "type": "nominal", "scale": {"domain": ["Nent = 145", "Mean = 14.55", "RMS = 5.212"]},
                                "legend": {"title": "Rec_Precision", "orient": "none", "legendX": 398, "legendY": -37}}}},
        {"data": {"name": "tb"}, "mark": {"type": "point", "opacity": 0},
         "encoding": {"color": {"field": "v", "type": "quantitative", "scale": {"domain": [0, 1], "range": ["white", "white"]},
                                "legend": {"type": "gradient", "direction": "horizontal", "orient": "none", "legendX": -56, "legendY": -43,
                                           "title": "Precision", "titleAnchor": "start", "titleFontSize": 17, "titleFontWeight": "bold", "titlePadding": 1,
                                           "gradientLength": 105, "gradientThickness": 1, "gradientStrokeWidth": 0, "labelExpr": "''", "labelFontSize": 1, "labelOffset": 0, "padding": 4}}}}
      ]
    },
    {
      "width": 472, "height": 368,
      "resolve": {"axis": {"x": "independent", "y": "independent"}},
      "layer": [
        {"data": {"name": "z6"}, "mark": {"type": "rule", "stroke": "#111", "strokeWidth": 2},
         "encoding": {"x": {"field": "x1", "type": "quantitative", "scale": {"domain": [3, 23], "nice": false, "zero": false}, "axis": null}, "x2": {"field": "x2"}, "y": {"field": "y0", "type": "quantitative", "scale": {"domain": [-0.337, 1.463], "nice": false, "zero": false}, "axis": null}}},
        {"data": {"name": "p6"}, "mark": {"type": "rule", "stroke": "#222", "strokeWidth": 1.5, "clip": true},
         "encoding": {
           "x": {"field": "x", "type": "quantitative", "scale": {"domain": [3, 23], "nice": false, "zero": false},
                 "axis": {"orient": "bottom", "title": "Number of Station", "titleX": 477, "titleY": 34, "titleAlign": "right", "titleBaseline": "alphabetic", "titleFont": "DejaVu Sans", "titleFontWeight": "bold", "titleFontSize": 17, "titleColor": "black",
                          "values": [4,6,8,10,12,14,16,18,20,22], "format": "d", "tickSize": -12, "labelPadding": 17, "labelFontSize": 13}},
           "y": {"field": "lo", "type": "quantitative", "scale": {"domain": [-0.337, 1.463], "nice": false, "zero": false},
                 "axis": {"orient": "left", "title": "精度", "titleFont": "Noto Sans CJK SC", "titleFontSize": 13, "titleFontWeight": "bold", "titleColor": "black", "titleX": -43, "titleY": 2, "titleAlign": "right", "titleBaseline": "middle", "titleAngle": -90,
                          "values": [-0.2,0,0.2,0.4,0.6,0.8,1,1.2,1.4], "format": ".1~f", "tickSize": -12, "labelPadding": 16}},
           "y2": {"field": "hi"}}},
        {"data": {"name": "p6"}, "mark": {"type": "rule", "stroke": "#222", "strokeWidth": 1.5},
         "encoding": {"x": {"field": "bin_lo", "type": "quantitative", "scale": {"domain": [3, 23], "nice": false, "zero": false}, "axis": null}, "x2": {"field": "bin_hi"}, "y": {"field": "y", "type": "quantitative", "scale": {"domain": [-0.337, 1.463], "nice": false, "zero": false}, "axis": null}}},
        {"data": {"name": "p6"}, "mark": {"type": "point", "shape": "M-1,0L-0.4,-0.65L0.4,-0.65L1,0L0.4,0.65L-0.4,0.65Z", "size": 400, "filled": true, "fill": "white", "stroke": "#202040", "strokeWidth": 1.2, "opacity": 1},
         "encoding": {
           "x": {"field": "x", "type": "quantitative", "scale": {"domain": [3, 23], "nice": false, "zero": false},
                 "axis": {"orient": "bottom", "title": null, "labels": false, "domain": false, "tickSize": -6,
                          "values": [3.2,3.6,4.4,4.8,5.2,5.6,6.4,6.8,7.2,7.6,8.4,8.8,9.2,9.6,10.4,10.8,11.2,11.6,12.4,12.8,13.2,13.6,14.4,14.8,15.2,15.6,16.4,16.8,17.2,17.6,18.4,18.8,19.2,19.6,20.4,20.8,21.2,21.6,22.4,22.8]}},
           "y": {"field": "y", "type": "quantitative", "scale": {"domain": [-0.337, 1.463], "nice": false, "zero": false},
                 "axis": {"orient": "left", "title": null, "labels": false, "domain": false, "tickSize": -7,
                          "values": [-0.32,-0.28,-0.24,-0.16,-0.12,-0.08,-0.04,0.04,0.08,0.12,0.16,0.24,0.28,0.32,0.36,0.44,0.48,0.52,0.56,0.64,0.68,0.72,0.76,0.84,0.88,0.92,0.96,1.04,1.08,1.12,1.16,1.24,1.28,1.32,1.36,1.44]}}}},
        {"data": {"name": "s6"}, "mark": {"type": "point", "opacity": 0},
         "encoding": {"shape": {"field": "stat", "type": "nominal", "scale": {"domain": ["Nent = 172", "Mean = 13.4", "RMS = 4.53"]},
                                "legend": {"title": "Rec_Precision", "orient": "none", "legendX": 400, "legendY": -34}}}},
        {"data": {"name": "tb"}, "mark": {"type": "point", "opacity": 0},
         "encoding": {"color": {"field": "v", "type": "quantitative", "scale": {"domain": [0, 1], "range": ["white", "white"]},
                                "legend": {"type": "gradient", "direction": "horizontal", "orient": "none", "legendX": -56, "legendY": -43,
                                           "title": "Precision", "titleAnchor": "start", "titleFontSize": 17, "titleFontWeight": "bold", "titlePadding": 1,
                                           "gradientLength": 105, "gradientThickness": 1, "gradientStrokeWidth": 0, "labelExpr": "''", "labelFontSize": 1, "labelOffset": 0, "padding": 4}}}}
      ]
    }
  ],
  "config": {
    "font": "DejaVu Sans",
    "view": {"stroke": "black", "strokeWidth": 2},
    "axis": {"grid": false, "domainColor": "black", "domainWidth": 2, "tickColor": "black", "tickWidth": 1.5,
             "labelFont": "DejaVu Sans", "labelFontWeight": "bold", "labelFontSize": 15, "labelColor": "black",
             "labelOverlap": false, "labelFlush": false, "titleColor": "black"},
    "legend": {"orient": "none", "fillColor": "white", "strokeColor": "black", "strokeWidth": 1.5, "padding": 4,
               "labelFont": "DejaVu Sans", "labelFontWeight": "bold", "labelFontSize": 12, "labelColor": "black",
               "titleFont": "DejaVu Sans", "titleFontWeight": "bold", "titleFontSize": 12, "titleColor": "black",
               "symbolSize": 0, "symbolOpacity": 0, "symbolStrokeWidth": 0, "labelOffset": -9,
               "rowPadding": 6, "titlePadding": 4, "cornerRadius": 0, "labelLimit": 400, "titleLimit": 400,
               "gradientVerticalMaxLength": 3000, "gradientHorizontalMaxLength": 3000}
  }
}
